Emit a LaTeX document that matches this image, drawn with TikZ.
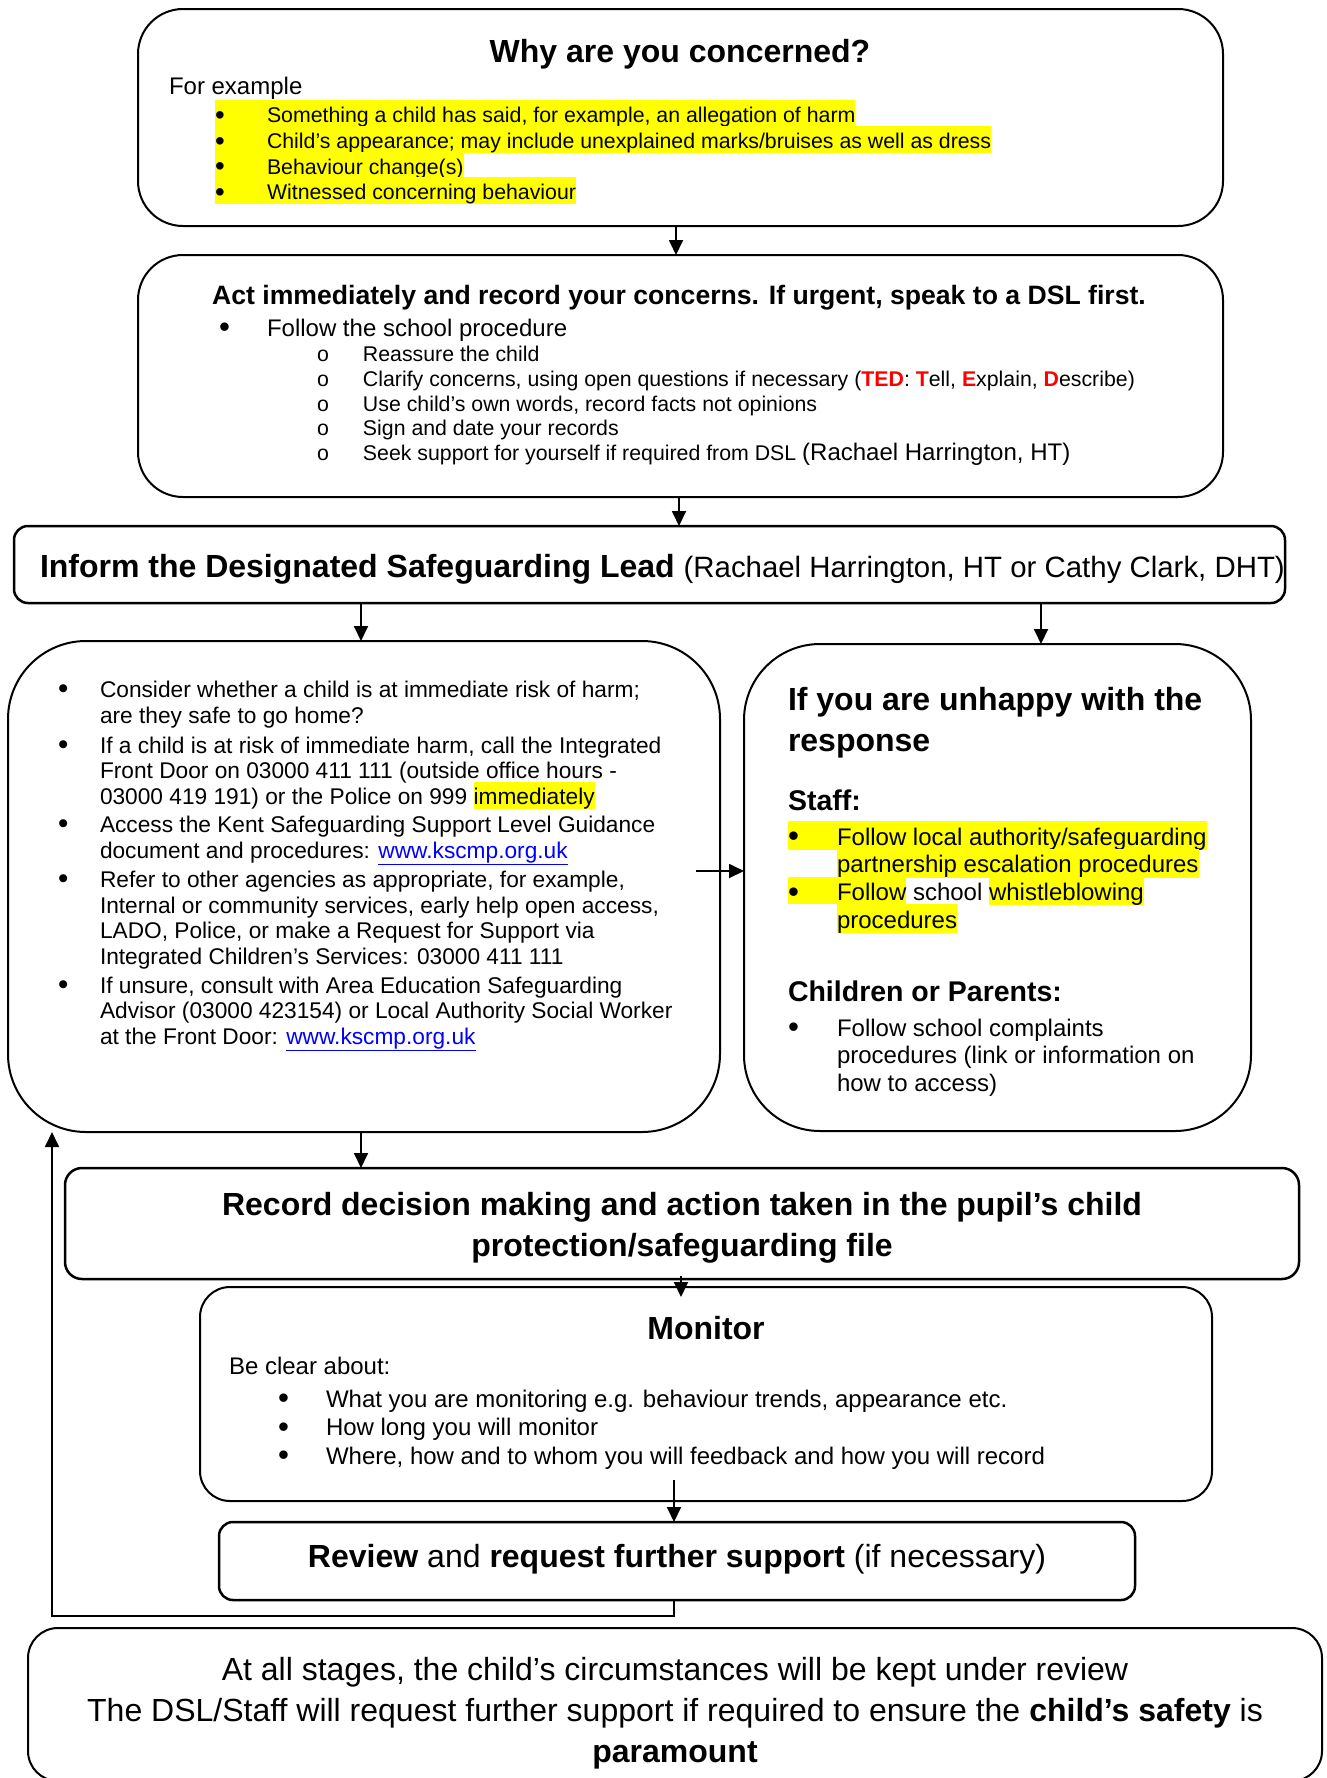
\documentclass[tikz,border=0pt]{standalone}
\usepackage{fontspec}
\usepackage{graphicx}
\setmainfont{Liberation Sans}
\usetikzlibrary{arrows.meta,calc}
\definecolor{hly}{RGB}{255,255,0}
\definecolor{tedred}{RGB}{255,0,0}
\definecolor{lnkblue}{RGB}{0,0,255}
\newcommand\fsz[2]{\fontsize{#1}{#2}\selectfont}
\newdimen\hlh \newdimen\hld
\newcommand\hl[1]{{\setlength{\fboxsep}{0pt}\colorbox{hly}{\rule[-\hld]{0pt}{\dimexpr\hlh+\hld\relax}#1}}}
\newcommand\lnk[1]{\textcolor{lnkblue}{\underline{#1}}}
\newcommand\rd[1]{\textbf{\textcolor{tedred}{#1}}}
\newcommand\bul[1]{\makebox[#1][l]{\raisebox{-0.08em}{\scalebox{1.3}{•}}}}
\begin{document}
\begin{tikzpicture}[x=1pt,y=-1pt,
  box/.style={draw, line width=2pt, rectangle, inner sep=0pt, outer sep=0pt},
  txt/.style={inner sep=0pt, outer sep=0pt, anchor=base west},
  ctxt/.style={inner sep=0pt, outer sep=0pt, anchor=base},
  arr/.style={line width=1.8pt, line join=miter, -{Triangle[length=15pt,width=14pt]}},
  ]
\useasboundingbox (0,0) rectangle (1327,1778);

% ---------- boxes
\node[box, minimum width=1085pt, minimum height=217pt, rounded corners=45pt] (b1) at (680.5,117.5) {};
\node[box, minimum width=1085pt, minimum height=242pt, rounded corners=45pt] (b2) at (680.5,376) {};
\node[box, line width=2.5pt, minimum width=1271pt, minimum height=77pt, rounded corners=14pt] (b3) at (649.5,564.5) {};
\node[box, minimum width=712pt, minimum height=491pt, rounded corners=78pt] (b4) at (364,886.5) {};
\node[box, minimum width=507pt, minimum height=487pt, rounded corners=76pt] (b5) at (997.5,887.5) {};
\node[box, line width=2.5pt, minimum width=1234pt, minimum height=111pt, rounded corners=17pt] (b6) at (682,1223.5) {};
\node[box, minimum width=1012pt, minimum height=214pt, rounded corners=30pt] (b7) at (706,1394) {};
\node[box, line width=2.5pt, minimum width=916pt, minimum height=78pt, rounded corners=14pt] (b8) at (677,1561) {};
\node[box, minimum width=1294pt, minimum height=153pt, rounded corners=30pt] (b9) at (675,1704.5) {};

% ---------- box 1
\node[ctxt, font=\fsz{32}{38}\bfseries] (t1) at (680,62) {Why are you concerned?};
\node[txt, font=\fsz{24}{28}] (t1a) at (169,94) {For example};
\node[txt, font=\fsz{21.3}{25.7}] (t1b) at (215,122.7) {\hlh=22.4pt\hld=3.3pt\hl{\bul{52pt}Something a child has said, for example, an allegation of harm}};
\node[txt, font=\fsz{21.3}{25.7}] (t1c) at (215,148.4) {\hlh=22.4pt\hld=3.3pt\hl{\bul{52pt}Child’s appearance; may include unexplained marks/bruises as well as dress}};
\node[txt, font=\fsz{21.3}{25.7}] (t1d) at (215,174.1) {\hlh=22.4pt\hld=3.3pt\hl{\bul{52pt}Behaviour change(s)}};
\node[txt, font=\fsz{21.3}{25.7}] (t1e) at (215,199.8) {\hlh=22.4pt\hld=3.3pt\hl{\bul{52pt}Witnessed concerning behaviour}};

% ---------- box 2
\node[ctxt, font=\fsz{26.6}{32}\bfseries] (t2) at (679,304) {Act immediately and record your concerns. If urgent, speak to a DSL first.};
\node[txt, font=\fsz{24}{28}] (t2a) at (219,336) {\bul{48pt}Follow the school procedure};
\node[txt, font=\fsz{21.3}{25}] (t2b) at (317,361) {\makebox[46pt][l]{o}Reassure the child};
\node[txt, font=\fsz{21.3}{25}] (t2c) at (317,386) {\makebox[46pt][l]{o}Clarify concerns, using open questions if necessary (\rd{TED}: \rd{T}ell, \rd{E}xplain, \rd{D}escribe)};
\node[txt, font=\fsz{21.3}{25}] (t2d) at (317,411) {\makebox[46pt][l]{o}Use child’s own words, record facts not opinions};
\node[txt, font=\fsz{21.3}{25}] (t2e) at (317,435.5) {\makebox[46pt][l]{o}Sign and date your records};
\node[txt, font=\fsz{21.3}{25}] (t2f) at (317,460.5) {\makebox[46pt][l]{o}Seek support for yourself if required from DSL {\fsz{24}{28}(Rachael Harrington, HT)}};

% ---------- box 3
\node[txt, font=\fsz{29.4}{36}] (t3) at (40,577) {\fsz{32}{38}\textbf{Inform the Designated Safeguarding Lead} \fsz{29.4}{36}(Rachael Harrington, HT or Cathy Clark, DHT)};

% ---------- box 4
\begin{scope}[every node/.style={txt, font=\fsz{22.7}{25.5}}]
\node (t4a) at (58,697) {\bul{42pt}Consider whether a child is at immediate risk of harm;};
\node (t4b) at (100,723) {are they safe to go home?};
\node (t4c) at (58,753) {\bul{42pt}If a child is at risk of immediate harm, call the Integrated};
\node (t4d) at (100,778) {Front Door on 03000 411 111 (outside office hours -};
\node (t4e) at (100,804) {03000 419 191) or the Police on 999 \hlh=22pt\hld=3.5pt\hl{immediately}};
\node (t4f) at (58,832) {\bul{42pt}Access the Kent Safeguarding Support Level Guidance};
\node (t4g) at (100,858) {document and procedures: \lnk{www.kscmp.org.uk}};
\node (t4h) at (58,887) {\bul{42pt}Refer to other agencies as appropriate, for example,};
\node (t4i) at (100,913) {Internal or community services, early help open access,};
\node (t4j) at (100,938.5) {LADO, Police, or make a Request for Support via};
\node (t4k) at (100,964) {Integrated Children’s Services: 03000 411 111};
\node (t4l) at (58,993) {\bul{42pt}If unsure, consult with Area Education Safeguarding};
\node (t4m) at (100,1018.5) {Advisor (03000 423154) or Local Authority Social Worker};
\node (t4n) at (100,1044.5) {at the Front Door: \lnk{www.kscmp.org.uk}};
\end{scope}

% ---------- box 5
\node[txt, font=\fsz{32}{42}\bfseries] (t5a) at (788,710) {If you are unhappy with the};
\node[txt, font=\fsz{32}{42}\bfseries] (t5b) at (788,751) {response};
\node[txt, font=\fsz{28.5}{34}\bfseries] (t5c) at (788,810) {Staff:};
\begin{scope}[every node/.style={txt, font=\fsz{24}{27.7}}]
\node (t5d) at (788,845) {\hlh=23.7pt\hld=4pt\hl{\bul{49pt}Follow local authority/safeguarding}};
\node (t5e) at (837,872.7) {\hlh=23.7pt\hld=4pt\hl{partnership escalation procedures}};
\node (t5f) at (788,900.4) {\hlh=23.7pt\hld=4pt\hl{\bul{49pt}Follow} school \hl{whistleblowing}};
\node (t5g) at (837,928.1) {\hlh=23.7pt\hld=4pt\hl{procedures}};
\end{scope}
\node[txt, font=\fsz{28.5}{34}\bfseries] (t5h) at (788,1001) {Children or Parents:};
\begin{scope}[every node/.style={txt, font=\fsz{24}{27.7}}]
\node (t5i) at (788,1036) {\bul{49pt}Follow school complaints};
\node (t5j) at (837,1063.5) {procedures (link or information on};
\node (t5k) at (837,1091) {how to access)};
\end{scope}

% ---------- box 6
\node[ctxt, font=\fsz{32}{40}\bfseries] (t6a) at (682,1215) {Record decision making and action taken in the pupil’s child};
\node[ctxt, font=\fsz{32}{40}\bfseries] (t6b) at (682,1256) {protection/safeguarding file};

% ---------- box 7
\node[ctxt, font=\fsz{32}{38}\bfseries] (t7) at (706,1339) {Monitor};
\node[txt, font=\fsz{24}{28}] (t7a) at (229,1374) {Be clear about:};
\begin{scope}[every node/.style={txt, font=\fsz{24}{28.5}}]
\node (t7b) at (278,1407) {\bul{48pt}What you are monitoring e.g. behaviour trends, appearance etc.};
\node (t7c) at (278,1435.5) {\bul{48pt}How long you will monitor};
\node (t7d) at (278,1464) {\bul{48pt}Where, how and to whom you will feedback and how you will record};
\end{scope}

% ---------- box 8
\node[ctxt, font=\fsz{32}{38}] (t8) at (677,1567) {\textbf{Review} and \textbf{request further support} (if necessary)};

% ---------- box 9
\node[ctxt, font=\fsz{32}{40}] (t9a) at (675,1680) {At all stages, the child’s circumstances will be kept under review};
\node[ctxt, font=\fsz{32}{40}] (t9b) at (675,1721) {The DSL/Staff will request further support if required to ensure the \textbf{child’s safety} is};
\node[ctxt, font=\fsz{32}{40}\bfseries] (t9c) at (675,1762) {paramount};

% ---------- connectors
\coordinate (x1) at (676,0);
\coordinate (x2) at (679,0);
\coordinate (x3) at (361,0);
\coordinate (x4) at (1041,0);
\coordinate (x7) at (681,0);
\coordinate (x8) at (674,0);
\coordinate (s5) at (696,871);
\coordinate (fb) at (52,1616);
\draw[arr] (b1.south -| x1) -- (b2.north -| x1);
\draw[arr] (b2.south -| x2) -- (b3.north -| x2);
\draw[arr] (b3.south -| x3) -- (b4.north -| x3);
\draw[arr] (b3.south -| x4) -- (b5.north -| x4);
\draw[arr] (s5) -- (s5 -| b5.west);
\draw[arr] (b4.south -| x3) -- (b6.north -| x3);
\draw[arr] ($(b6.south -| x7)+(0,-3)$) -- ($(b7.north -| x7)+(0,10)$);
\draw[arr] ($(b7.south -| x8)+(0,-21)$) -- (b8.north -| x8);
\draw[arr] (b8.south -| x8) |- (fb) -- (fb |- b4.south);
\end{tikzpicture}
\end{document}
